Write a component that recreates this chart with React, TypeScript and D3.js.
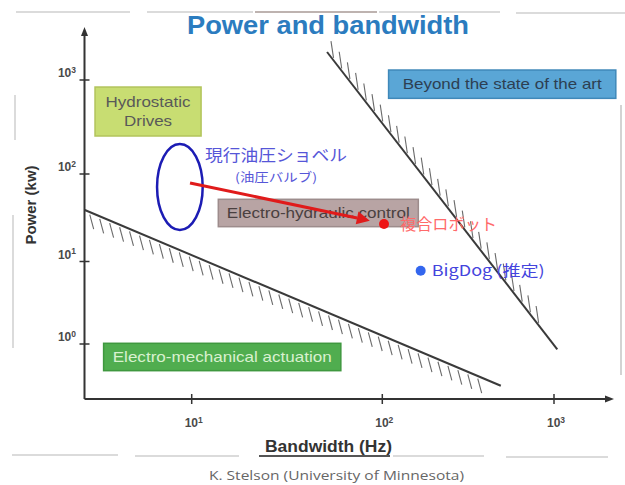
import React from "react";
import * as d3 from "d3";

// ---- data (bandwidth in Hz, power in kW) ----
const xTickValues = [10, 100, 1000];
const yTickValues = [1, 10, 100, 1000];

// technology boundaries
const stateOfArtBoundary = [
  { bw: 51.3, kw: 1986 },
  { bw: 1045, kw: 0.863 },
];
const electroMechBoundary = [
  { bw: 2.75, kw: 38.8 },
  { bw: 490, kw: 0.312 },
];

// regions
const regionNames = [
  "Hydrostatic|Drives",
  "Beyond the state of the art",
  "Electro-hydraulic control",
  "Electro-mechanical actuation",
];
const regionBw = [
  [3.11, 11.2],
  [108.8, 2291],
  [13.79, 162.1],
  [3.45, 60.6],
];
const regionKw = [
  [253.6, 842],
  [638, 1277],
  [25.0, 51.4],
  [0.475, 1.02],
];

// current hydraulic excavator (ellipse extent)
const excavatorBw = [6.58, 11.42];
const excavatorKw = [22.9, 208];
const excavatorLabelAt = { bw: 11.74, kw: 159 };
const excavatorSubLabelAt = { bw: 27.7, kw: 91.2 };

// trend arrow
const trendFrom = { bw: 9.8, kw: 78.9 };
const trendTo = { bw: 86, kw: 29.3 };

// points
const compositeRobot = { bw: 102.3, kw: 26.8 };
const bigDog = { bw: 167.3, kw: 7.74 };

const W = 625;
const H = 485;

const x = d3.scaleLog().domain([10, 100, 1000]).range([191.7, 382.3, 554]);
const y = d3.scaleLog().domain([1, 10, 100, 1000]).range([344, 261.5, 174, 80]);

const AX_X = 84.5;
const AX_Y = 399;

function hatches(
  b: { bw: number; kw: number }[],
  step: number,
  dir: [number, number],
  len: number,
  gap: number,
  t0: number,
  t1: number
) {
  const x0 = x(b[0].bw), y0 = y(b[0].kw), x1 = x(b[1].bw), y1 = y(b[1].kw);
  const L = Math.hypot(x1 - x0, y1 - y0);
  const dl = Math.hypot(dir[0], dir[1]);
  const ux = dir[0] / dl, uy = dir[1] / dl;
  const n = Math.floor(((t1 - t0) * L) / step);
  return d3.range(n + 1).map((i) => {
    const t = t0 + (i * step) / L;
    const px = x0 + (x1 - x0) * t + ux * gap;
    const py = y0 + (y1 - y0) * t + uy * gap;
    return { x1: px, y1: py, x2: px + ux * len, y2: py + uy * len };
  });
}

const SANS = "'Liberation Sans', Arial, sans-serif";
const JP = "'Noto Sans CJK JP', 'Noto Sans', sans-serif";

const regionStyles = [
  { fill: "#c8dd72", stroke: "#b2c45c", text: "#595959" },
  { fill: "#5aa6d6", stroke: "#3f88b9", text: "#2d3f52" },
  { fill: "#b8a4a4", stroke: "#9d8c8c", text: "#4a4040" },
  { fill: "#50ad4f", stroke: "#3f983f", text: "#d9f1d0" },
];
const regionTextLen = [[85, 48], [199], [183], [219]];

function TickLabel(props: { v: number; x: number; y: number; anchor: string }) {
  const e = Math.round(Math.log10(props.v));
  return (
    <text x={props.x} y={props.y} textAnchor={props.anchor}>
      10
      <tspan fontSize={8.5} dy={-4.5}>
        {String(e)}
      </tspan>
    </text>
  );
}

export default function App() {
  const upperH = hatches(stateOfArtBoundary, 13.4, [-0.15, -1], 17, 3, 0.03, 0.95);
  const lowerH = hatches(electroMechBoundary, 10.8, [0.27, 1], 15, 3, 0.01, 0.95);

  const ax0 = x(trendFrom.bw), ay0 = y(trendFrom.kw);
  const ax1 = x(trendTo.bw), ay1 = y(trendTo.kw);
  const ang = Math.atan2(ay1 - ay0, ax1 - ax0);
  const headL = 13, headW = 6.5;
  const bx = ax1 - headL * Math.cos(ang), by = ay1 - headL * Math.sin(ang);
  const head = [
    [ax1, ay1],
    [bx + headW * Math.sin(ang), by - headW * Math.cos(ang)],
    [bx - headW * Math.sin(ang), by + headW * Math.cos(ang)],
  ]
    .map((p) => p.join(","))
    .join(" ");

  const ex0 = x(excavatorBw[0]), ex1 = x(excavatorBw[1]);
  const ey0 = y(excavatorKw[1]), ey1 = y(excavatorKw[0]);

  return (
    <svg
      width={W}
      height={H}
      style={{ position: "absolute", left: 0, top: 0, background: "#fff" }}
    >
      {/* slide frame remnants */}
      <g stroke="#cfcfcf" strokeWidth={1.5}>
        <line x1={16} x2={130} y1={12} y2={12} />
        <line x1={147} x2={253} y1={12} y2={12} />
        <line x1={255} x2={377} y1={12} y2={12} stroke="#a89a96" />
        <line x1={379} x2={500} y1={12} y2={12} />
        <line x1={516} x2={625} y1={13} y2={13} />
        <line x1={12} x2={118} y1={455} y2={455} />
        <line x1={135} x2={239} y1={456} y2={456} />
        <line x1={259} x2={390} y1={456} y2={456} stroke="#555" strokeWidth={2} />
        <line x1={393} x2={484} y1={456} y2={456} />
        <line x1={506} x2={608} y1={457} y2={457} />
        <line x1={15} x2={15} y1={95} y2={140} />
        <line x1={13} x2={13} y1={215} y2={348} />
        <line x1={621} x2={621} y1={105} y2={375} stroke="#c4c4c4" />
      </g>

      {/* title */}
      <text
        x={328}
        y={33.5}
        textAnchor="middle"
        fontFamily={SANS}
        fontWeight="bold"
        fontSize={26}
        fill="#2b7cbf"
        textLength={282}
        lengthAdjust="spacingAndGlyphs"
      >
        Power and bandwidth
      </text>

      {/* regions */}
      {regionNames.map((name, i) => {
        const rx0 = x(regionBw[i][0]), rx1 = x(regionBw[i][1]);
        const ry0 = y(regionKw[i][1]), ry1 = y(regionKw[i][0]);
        const st = regionStyles[i];
        const lines = name.split("|");
        const cx = (rx0 + rx1) / 2, cy = (ry0 + ry1) / 2;
        return (
          <g key={name}>
            <rect
              x={rx0}
              y={ry0}
              width={rx1 - rx0}
              height={ry1 - ry0}
              fill={st.fill}
              stroke={st.stroke}
              strokeWidth={1.5}
            />
            {lines.map((ln, k) => (
              <text
                key={ln}
                x={cx}
                y={cy + (k - (lines.length - 1) / 2) * 19.5 + 5}
                textAnchor="middle"
                fontFamily={SANS}
                fontSize={14.5}
                fill={st.text}
                textLength={regionTextLen[i][k]}
                lengthAdjust="spacingAndGlyphs"
              >
                {ln}
              </text>
            ))}
          </g>
        );
      })}

      {/* boundaries with hatching */}
      <g stroke="#6a6a6a" strokeWidth={1.1}>
        {upperH.map((h, i) => (
          <line key={"u" + i} {...h} />
        ))}
        {lowerH.map((h, i) => (
          <line key={"l" + i} {...h} />
        ))}
      </g>
      <line
        x1={x(stateOfArtBoundary[0].bw)}
        y1={y(stateOfArtBoundary[0].kw)}
        x2={x(stateOfArtBoundary[1].bw)}
        y2={y(stateOfArtBoundary[1].kw)}
        stroke="#3a3a3a"
        strokeWidth={2}
      />
      <line
        x1={x(electroMechBoundary[0].bw)}
        y1={y(electroMechBoundary[0].kw)}
        x2={x(electroMechBoundary[1].bw)}
        y2={y(electroMechBoundary[1].kw)}
        stroke="#3a3a3a"
        strokeWidth={2}
      />

      {/* axes */}
      <g stroke="#333" strokeWidth={2}>
        <line x1={AX_X} x2={AX_X} y1={AX_Y} y2={33} />
        <line x1={AX_X} x2={608} y1={AX_Y} y2={AX_Y} />
      </g>
      <polygon points={`${AX_X},27 ${AX_X - 3.5},36 ${AX_X + 3.5},36`} fill="#333" />
      <polygon points={`614,${AX_Y} 605,${AX_Y - 3.5} 605,${AX_Y + 3.5}`} fill="#333" />
      <g stroke="#333" strokeWidth={1.5}>
        {yTickValues.map((v) => (
          <line key={v} x1={AX_X - 5} x2={AX_X + 5} y1={y(v)} y2={y(v)} />
        ))}
        {xTickValues.map((v) => (
          <line key={v} y1={AX_Y - 5} y2={AX_Y + 5} x1={x(v)} x2={x(v)} />
        ))}
      </g>
      <g fontFamily={SANS} fontWeight="bold" fontSize={12} fill="#4a4a4a">
        {yTickValues.map((v) => (
          <TickLabel key={v} v={v} x={76} y={y(v) - 3} anchor="end" />
        ))}
        {xTickValues.map((v) => (
          <TickLabel key={v} v={v} x={x(v) + 2} y={427} anchor="middle" />
        ))}
      </g>
      <text
        transform="translate(36,205) rotate(-90)"
        textAnchor="middle"
        fontFamily={SANS}
        fontWeight="bold"
        fontSize={15}
        fill="#333"
      >
        Power (kw)
      </text>
      <text
        x={328.5}
        y={452}
        textAnchor="middle"
        fontFamily={SANS}
        fontWeight="bold"
        fontSize={16}
        fill="#333"
        textLength={127}
        lengthAdjust="spacingAndGlyphs"
      >
        Bandwidth (Hz)
      </text>

      {/* excavator ellipse and labels */}
      <ellipse
        cx={(ex0 + ex1) / 2}
        cy={(ey0 + ey1) / 2}
        rx={(ex1 - ex0) / 2}
        ry={(ey1 - ey0) / 2}
        fill="none"
        stroke="#1c1cb4"
        strokeWidth={2.5}
      />
      <text
        x={x(excavatorLabelAt.bw)}
        y={y(excavatorLabelAt.kw) + 6}
        fontFamily={JP}
        fontSize={16}
        fill="#5656d8"
        textLength={142}
        lengthAdjust="spacingAndGlyphs"
      >
        現行油圧ショベル
      </text>
      <text
        x={x(excavatorSubLabelAt.bw)}
        y={y(excavatorSubLabelAt.kw) + 4.5}
        textAnchor="middle"
        fontFamily={JP}
        fontSize={12}
        fill="#5656d8"
        textLength={82}
        lengthAdjust="spacingAndGlyphs"
      >
        (油圧バルブ)
      </text>

      {/* trend arrow */}
      <line x1={ax0} y1={ay0} x2={bx} y2={by} stroke="#e01b1b" strokeWidth={3} />
      <polygon points={head} fill="#e01b1b" />

      {/* composite robot */}
      <circle cx={x(compositeRobot.bw)} cy={y(compositeRobot.kw)} r={5} fill="#ee1515" />
      <text
        x={x(compositeRobot.bw) + 16}
        y={y(compositeRobot.kw) + 6}
        fontFamily={JP}
        fontSize={16}
        fill="#ff6a6a"
        textLength={97}
        lengthAdjust="spacingAndGlyphs"
      >
        複合ロボット
      </text>

      {/* BigDog */}
      <circle cx={x(bigDog.bw)} cy={y(bigDog.kw)} r={5} fill="#3366ee" />
      <text
        x={x(bigDog.bw) + 11}
        y={y(bigDog.kw) + 5.5}
        fontFamily={JP}
        fontSize={15}
        fill="#4444dd"
        textLength={113}
        lengthAdjust="spacingAndGlyphs"
      >
        BigDog (推定)
      </text>

      {/* credit */}
      <text
        x={336.5}
        y={480}
        textAnchor="middle"
        fontFamily="'Open Sans', sans-serif"
        fontSize={12}
        fill="#666"
        textLength={255}
        lengthAdjust="spacingAndGlyphs"
      >
        K. Stelson  (University of Minnesota)
      </text>
    </svg>
  );
}
